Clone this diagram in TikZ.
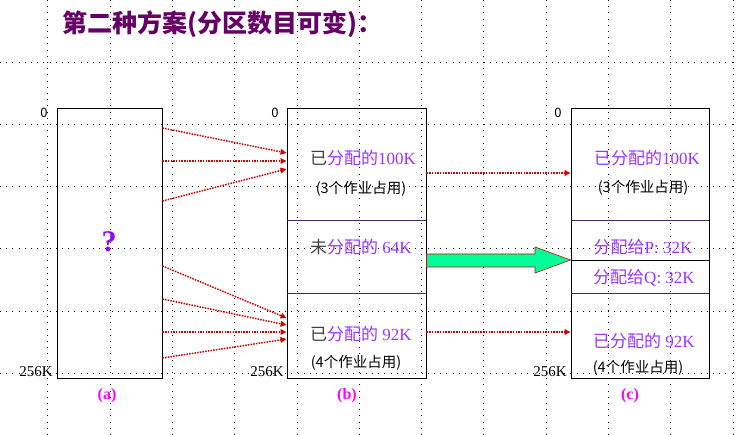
\documentclass[tikz,border=0pt]{standalone}
\usepackage{fontspec}
\setmainfont{Liberation Serif}
\newfontfamily\cjk{Noto Sans CJK SC}
\usepackage{tikz}
\usetikzlibrary{arrows.meta}
\definecolor{titlepurple}{HTML}{660066}
\definecolor{mempurple}{HTML}{9933FF}
\definecolor{askpurple}{HTML}{9900FF}
\definecolor{capmagenta}{HTML}{FF00FF}
\definecolor{splitnavy}{HTML}{333366}
\definecolor{moveRed}{HTML}{D40000}
\definecolor{springgreen}{HTML}{00FF99}
\newcommand{\zh}[1]{{\cjk #1}}

\begin{document}
\begin{tikzpicture}[x=1pt,y=-1pt,
   gridline/.style={line width=0.8pt,dash pattern=on 0.8pt off 5.4pt},
   membox/.style={draw,line width=0.9pt,minimum width=#1,minimum height=270pt,inner sep=0},
   split/.style={line width=0.9pt,splitnavy},
   txt/.style={inner sep=0,font=\fontsize{17}{19}\selectfont,text=mempurple},
   note/.style={inner sep=0,font=\cjk\fontsize{14.5}{16}\selectfont},
   addr/.style={inner sep=0,anchor=east,font=\fontsize{15}{16}\selectfont},
   caption/.style={inner sep=0,font=\bfseries\fontsize{16}{18}\selectfont,text=capmagenta},
   move/.style={moveRed,line width=1.5pt,dash pattern=on 1.5pt off 1.2pt,
     -{Triangle[length=6pt,width=5.5pt]}},
   bigarrow/.style={draw=red!85!black,line width=0.6pt,fill=springgreen}]
\useasboundingbox (0,0) rectangle (736,435);

% background grid
\foreach \k in {0,...,11}
   \draw[gridline] (47.7+62.3*\k,0) -- (47.7+62.3*\k,435);
\foreach \k in {1,...,6}
   \draw[gridline] (0,62.2*\k) -- (736,62.2*\k);

\node[inner sep=0,text=titlepurple,font=\cjk\bfseries\fontsize{25}{27}\selectfont]
   (title) at (222,24) {第二种方案(分区数目可变)：};

% the three memory maps
\node[membox=105pt] (a) at (109.5,243) {};
\node[membox=139pt] (b) at (356.5,243) {};
\node[membox=138pt] (c) at (640,243) {};

\draw[split] (b.west |- 0,220) -- (b.east |- 0,220);
\draw[split] (b.west |- 0,293) -- (b.east |- 0,293);
\draw[split] (c.west |- 0,220) -- (c.east |- 0,220);
\draw[line width=0.9pt] (c.west |- 0,260) -- (c.east |- 0,260);
\draw[split] (c.west |- 0,293) -- (c.east |- 0,293);

% start / end addresses
\node[inner sep=0,font=\cjk\fontsize{13}{14}\selectfont] (a0) at (44,113) {0};
\node[inner sep=0,font=\cjk\fontsize{13}{14}\selectfont] (b0) at (275,113) {0};
\node[inner sep=0,font=\cjk\fontsize{13}{14}\selectfont] (c0) at (558,113) {0};
\node[addr] (aend) at (53,372) {256K};
\node[addr] (bend) at (284,372) {256K};
\node[addr] (cend) at (567,372) {256K};

\node[inner sep=0,text=askpurple,font=\bfseries\fontsize{30}{32}\selectfont] (ask) at (109,242) {?};

% jobs moved into (b)
\foreach \s/\t in {128/153,161/161,201/169,266/318,299/325,332/332,358/339}
   \draw[move] (a.east |- 0,\s) -- (b.west |- 0,\t);
\draw[move] (b.east |- 0,173) -- (c.west |- 0,173);
\draw[move] (b.east |- 0,332) -- (c.west |- 0,332);

\draw[bigarrow] (b.east |- 0,254) -- (535,254) -- (535,247) -- (c.west |- 0,260)
   -- (535,273) -- (535,267) -- (b.east |- 0,267) -- cycle;

% texts of (b)
\node[txt] (bused) at (363,158) {\textcolor{darkgray}{\zh{已}}\zh{分配的}100K};
\node[note] (busednote) at (361,189) {(3个作业占用)};
\node[txt] (bfree) at (361,247) {\textcolor{darkgray}{\zh{未}}\zh{分配的} 64K};
\node[txt] (bused2) at (361,334) {\textcolor{darkgray}{\zh{已}}\zh{分配的} 92K};
\node[note] (bused2note) at (356,363) {(4个作业占用)};

% texts of (c)
\node[txt] (cused) at (647,158) {\zh{已分配的}100K};
\node[note] (cusednote) at (643,188) {(3个作业占用)};
\node[txt] (cp) at (643,247) {\zh{分配给}P: 32K};
\node[txt] (cq) at (644,278) {\zh{分配给}Q: 32K};
\node[txt] (cused2) at (644,341) {\zh{已分配的} 92K};
\node[note] (cused2note) at (638,368) {(4个作业占用)};

\node[caption] (capa) at (107,396) {(a)};
\node[caption] (capb) at (347,396) {(b)};
\node[caption] (capc) at (630,396) {(c)};
\end{tikzpicture}
\end{document}
